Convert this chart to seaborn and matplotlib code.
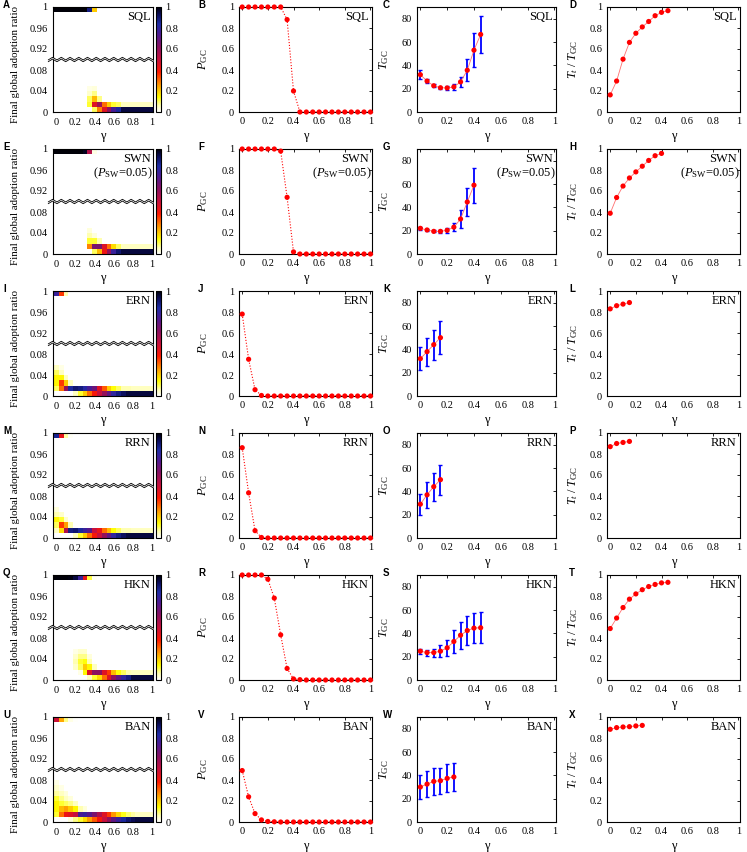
import numpy as np
import pandas as pd
import matplotlib
matplotlib.use("Agg")
import matplotlib.pyplot as plt
import seaborn as sns
from matplotlib.colors import LinearSegmentedColormap

# ---------------- data ----------------
GAMMA = [0.00, 0.05, 0.10, 0.15, 0.20, 0.25, 0.30, 0.35, 0.40, 0.45, 0.50,
         0.55, 0.60, 0.65, 0.70, 0.75, 0.80, 0.85, 0.90, 0.95, 1.00]
NETWORKS = ["SQL", "SWN", "ERN", "RRN", "HKN", "BAN"]
X_TICKS = [0, 0.2, 0.4, 0.6, 0.8, 1.0]
X_TICKLABELS = ["0", "0.2", "0.4", "0.6", "0.8", "1"]
HEAT_YTICKLABELS = ["0", "0.04", "0.08", "0.92", "0.96", "1"]
CBAR_TICKS = [0, 0.2, 0.4, 0.6, 0.8, 1.0]
CBAR_TICKLABELS = ["0", "0.2", "0.4", "0.6", "0.8", "1"]

# heat maps: final adoption ratio bins (top row = 0.99-1, low rows = 0-0.01, 0.01-0.02, ...)
SQL_TOP = [1, 1, 1, 1, 1, 1, 1, 0.88, 0.20, 0, 0, 0, 0, 0, 0, 0, 0, 0, 0, 0, 0]
SQL_LOW = [
    [0, 0, 0, 0, 0, 0, 0, 0, 0.10, 0.28, 0.45, 0.60, 0.75, 0.85, 0.95, 0.95, 0.95, 0.95, 0.95, 0.95, 0.95],
    [0, 0, 0, 0, 0, 0, 0, 0.12, 0.45, 0.58, 0.30, 0.20, 0.12, 0.10, 0.05, 0.05, 0.05, 0.05, 0.05, 0.05, 0.05],
    [0, 0, 0, 0, 0, 0, 0, 0.10, 0.22, 0.08, 0, 0, 0, 0, 0, 0, 0, 0, 0, 0, 0],
    [0, 0, 0, 0, 0, 0, 0, 0.04, 0.08, 0, 0, 0, 0, 0, 0, 0, 0, 0, 0, 0, 0],
    [0, 0, 0, 0, 0, 0, 0, 0.02, 0.03, 0, 0, 0, 0, 0, 0, 0, 0, 0, 0, 0, 0],
]
SWN_TOP = [1, 1, 1, 1, 1, 1, 0.98, 0.54, 0.02, 0, 0, 0, 0, 0, 0, 0, 0, 0, 0, 0, 0]
SWN_LOW = [
    [0, 0, 0, 0, 0, 0, 0, 0, 0.10, 0.22, 0.42, 0.60, 0.78, 0.90, 0.95, 0.95, 0.95, 0.95, 0.95, 0.95, 0.95],
    [0, 0, 0, 0, 0, 0, 0, 0.28, 0.65, 0.65, 0.45, 0.30, 0.18, 0.10, 0.05, 0.05, 0.05, 0.05, 0.05, 0.05, 0.05],
    [0, 0, 0, 0, 0, 0, 0, 0.12, 0.12, 0.06, 0, 0, 0, 0, 0, 0, 0, 0, 0, 0, 0],
    [0, 0, 0, 0, 0, 0, 0, 0.06, 0.03, 0, 0, 0, 0, 0, 0, 0, 0, 0, 0, 0, 0],
    [0, 0, 0, 0, 0, 0, 0, 0.03, 0, 0, 0, 0, 0, 0, 0, 0, 0, 0, 0, 0, 0],
]
ERN_TOP = [0.78, 0.35, 0.06, 0, 0, 0, 0, 0, 0, 0, 0, 0, 0, 0, 0, 0, 0, 0, 0, 0, 0]
ERN_LOW = [
    [0, 0, 0, 0, 0.05, 0.12, 0.20, 0.30, 0.40, 0.50, 0.60, 0.70, 0.80, 0.88, 0.92, 0.95, 0.95, 0.95, 0.95, 0.95, 0.95],
    [0.10, 0.30, 0.60, 0.85, 0.90, 0.88, 0.82, 0.75, 0.68, 0.45, 0.32, 0.20, 0.14, 0.10, 0.06, 0.06, 0.05, 0.05, 0.05, 0.05, 0.05],
    [0.15, 0.35, 0.20, 0.05, 0, 0, 0, 0, 0, 0, 0, 0, 0, 0, 0, 0, 0, 0, 0, 0, 0],
    [0.15, 0.15, 0.05, 0, 0, 0, 0, 0, 0, 0, 0, 0, 0, 0, 0, 0, 0, 0, 0, 0, 0],
    [0.10, 0.05, 0, 0, 0, 0, 0, 0, 0, 0, 0, 0, 0, 0, 0, 0, 0, 0, 0, 0, 0],
    [0.05, 0.02, 0, 0, 0, 0, 0, 0, 0, 0, 0, 0, 0, 0, 0, 0, 0, 0, 0, 0, 0],
]
RRN_TOP = [0.86, 0.43, 0.07, 0.01, 0, 0, 0, 0, 0, 0, 0, 0, 0, 0, 0, 0, 0, 0, 0, 0, 0]
RRN_LOW = [
    [0, 0, 0, 0, 0.05, 0.12, 0.20, 0.30, 0.40, 0.50, 0.60, 0.70, 0.80, 0.88, 0.92, 0.95, 0.95, 0.95, 0.95, 0.95, 0.95],
    [0.05, 0.18, 0.55, 0.88, 0.90, 0.85, 0.78, 0.72, 0.50, 0.42, 0.30, 0.22, 0.14, 0.10, 0.06, 0.06, 0.05, 0.05, 0.05, 0.05, 0.05],
    [0.10, 0.35, 0.25, 0.06, 0, 0, 0, 0, 0, 0, 0, 0, 0, 0, 0, 0, 0, 0, 0, 0, 0],
    [0.15, 0.12, 0.04, 0, 0, 0, 0, 0, 0, 0, 0, 0, 0, 0, 0, 0, 0, 0, 0, 0, 0],
    [0.06, 0.04, 0, 0, 0, 0, 0, 0, 0, 0, 0, 0, 0, 0, 0, 0, 0, 0, 0, 0, 0],
    [0.03, 0, 0, 0, 0, 0, 0, 0, 0, 0, 0, 0, 0, 0, 0, 0, 0, 0, 0, 0, 0],
]
HKN_TOP = [1, 1, 1, 0.99, 0.95, 0.78, 0.43, 0.11, 0.01, 0, 0, 0, 0, 0, 0, 0, 0, 0, 0, 0, 0]
HKN_LOW = [
    [0, 0, 0, 0, 0, 0, 0, 0.05, 0.12, 0.18, 0.30, 0.45, 0.60, 0.70, 0.80, 0.88, 0.95, 0.95, 0.95, 0.95, 0.95],
    [0, 0, 0, 0, 0, 0.02, 0.15, 0.45, 0.62, 0.62, 0.45, 0.35, 0.22, 0.14, 0.10, 0.06, 0.05, 0.05, 0.05, 0.05, 0.05],
    [0, 0, 0, 0, 0.04, 0.10, 0.20, 0.15, 0.05, 0, 0, 0, 0, 0, 0, 0, 0, 0, 0, 0, 0],
    [0, 0, 0, 0, 0.06, 0.12, 0.14, 0.06, 0, 0, 0, 0, 0, 0, 0, 0, 0, 0, 0, 0, 0],
    [0, 0, 0, 0, 0.04, 0.08, 0.08, 0.03, 0, 0, 0, 0, 0, 0, 0, 0, 0, 0, 0, 0, 0],
    [0, 0, 0, 0, 0.02, 0.04, 0.04, 0, 0, 0, 0, 0, 0, 0, 0, 0, 0, 0, 0, 0, 0],
]
BAN_TOP = [0.49, 0.24, 0.08, 0.02, 0.005, 0, 0, 0, 0, 0, 0, 0, 0, 0, 0, 0, 0, 0, 0, 0, 0]
BAN_LOW = [
    [0, 0, 0, 0.03, 0.08, 0.12, 0.18, 0.25, 0.32, 0.40, 0.50, 0.60, 0.70, 0.78, 0.85, 0.90, 0.93, 0.95, 0.95, 0.95, 0.95],
    [0.12, 0.30, 0.42, 0.45, 0.50, 0.75, 0.78, 0.72, 0.65, 0.55, 0.45, 0.35, 0.26, 0.19, 0.13, 0.09, 0.07, 0.05, 0.05, 0.05, 0.05],
    [0.15, 0.22, 0.25, 0.20, 0.15, 0.06, 0.03, 0, 0, 0, 0, 0, 0, 0, 0, 0, 0, 0, 0, 0, 0],
    [0.15, 0.12, 0.10, 0.08, 0.05, 0, 0, 0, 0, 0, 0, 0, 0, 0, 0, 0, 0, 0, 0, 0, 0],
    [0.12, 0.08, 0.05, 0.03, 0, 0, 0, 0, 0, 0, 0, 0, 0, 0, 0, 0, 0, 0, 0, 0, 0],
    [0.07, 0.05, 0.03, 0, 0, 0, 0, 0, 0, 0, 0, 0, 0, 0, 0, 0, 0, 0, 0, 0, 0],
    [0.04, 0.02, 0, 0, 0, 0, 0, 0, 0, 0, 0, 0, 0, 0, 0, 0, 0, 0, 0, 0, 0],
    [0.02, 0, 0, 0, 0, 0, 0, 0, 0, 0, 0, 0, 0, 0, 0, 0, 0, 0, 0, 0, 0],
]

# P_GC vs gamma (21 points each)
SQL_PGC = [1, 1, 1, 1, 1, 1, 1, 0.88, 0.20, 0, 0, 0, 0, 0, 0, 0, 0, 0, 0, 0, 0]
SWN_PGC = [1, 1, 1, 1, 1, 1, 0.98, 0.54, 0.02, 0, 0, 0, 0, 0, 0, 0, 0, 0, 0, 0, 0]
ERN_PGC = [0.78, 0.35, 0.06, 0.005, 0, 0, 0, 0, 0, 0, 0, 0, 0, 0, 0, 0, 0, 0, 0, 0, 0]
RRN_PGC = [0.86, 0.43, 0.07, 0.005, 0, 0, 0, 0, 0, 0, 0, 0, 0, 0, 0, 0, 0, 0, 0, 0, 0]
HKN_PGC = [1, 1, 1, 1, 0.96, 0.78, 0.43, 0.11, 0.01, 0.003, 0, 0, 0, 0, 0, 0, 0, 0, 0, 0, 0]
BAN_PGC = [0.49, 0.24, 0.08, 0.02, 0.005, 0.002, 0, 0, 0, 0, 0, 0, 0, 0, 0, 0, 0, 0, 0, 0, 0]

# T_GC (mean and error) vs gamma (first n points)
SQL_TGC = [32, 26.5, 22.5, 20.8, 20.6, 21.5, 25.8, 35.8, 53, 66.5]
SQL_TGC_ERR = [4, 2, 1.2, 1, 1.5, 2.5, 4, 9.6, 14.8, 16]
SWN_TGC = [22, 20.6, 19.4, 19.4, 20.3, 23, 30, 44.6, 59]
SWN_TGC_ERR = [1, 1, 0.8, 1, 2, 3.5, 7.5, 12, 15]
ERN_TGC = [32, 38, 44, 50]
ERN_TGC_ERR = [10, 12, 13, 14]
RRN_TGC = [29, 37, 44, 50]
RRN_TGC_ERR = [9, 11, 12, 13]
HKN_TGC = [24.7, 23.5, 23.5, 24.7, 27.6, 33, 38.4, 42.4, 44.5, 44.8]
HKN_TGC_ERR = [2, 2.5, 3.5, 5, 7, 10, 11.5, 12.5, 12.8, 13.5]
BAN_TGC = [30, 32.5, 34.8, 35.4, 37.4, 38.6]
BAN_TGC_ERR = [10.3, 11, 11.5, 11, 12, 12]

# T_t / T_GC vs gamma
SQL_RATIO = [0.163, 0.295, 0.503, 0.663, 0.75, 0.81, 0.862, 0.917, 0.949, 0.965]
SWN_RATIO = [0.388, 0.538, 0.647, 0.724, 0.782, 0.836, 0.891, 0.936, 0.958]
ERN_RATIO = [0.83, 0.86, 0.875, 0.89]
RRN_RATIO = [0.87, 0.90, 0.91, 0.92]
HKN_RATIO = [0.49, 0.59, 0.69, 0.77, 0.82, 0.86, 0.89, 0.91, 0.925, 0.93]
BAN_RATIO = [0.883, 0.899, 0.905, 0.908, 0.915, 0.92]

HEAT_TOP = [SQL_TOP, SWN_TOP, ERN_TOP, RRN_TOP, HKN_TOP, BAN_TOP]
HEAT_LOW = [SQL_LOW, SWN_LOW, ERN_LOW, RRN_LOW, HKN_LOW, BAN_LOW]
PGC = [SQL_PGC, SWN_PGC, ERN_PGC, RRN_PGC, HKN_PGC, BAN_PGC]
TGC = [SQL_TGC, SWN_TGC, ERN_TGC, RRN_TGC, HKN_TGC, BAN_TGC]
TGC_ERR = [SQL_TGC_ERR, SWN_TGC_ERR, ERN_TGC_ERR, RRN_TGC_ERR, HKN_TGC_ERR, BAN_TGC_ERR]
RATIO = [SQL_RATIO, SWN_RATIO, ERN_RATIO, RRN_RATIO, HKN_RATIO, BAN_RATIO]
LETTERS = ["ABCD", "EFGH", "IJKL", "MNOP", "QRST", "UVWX"]

# ---------------- style ----------------
sns.set_style("white")
plt.rcParams["font.family"] = ["Liberation Serif", "DejaVu Serif"]
plt.rcParams["mathtext.fontset"] = "custom"
plt.rcParams["mathtext.rm"] = "Liberation Serif"
plt.rcParams["mathtext.it"] = "Liberation Serif:italic"
for k in ["axes.edgecolor", "text.color", "xtick.color", "ytick.color", "axes.labelcolor"]:
    plt.rcParams[k] = "black"
plt.rcParams["axes.linewidth"] = 0.8

CMAP = LinearSegmentedColormap.from_list("adopt", [
    (0.00, "#ffffff"), (0.06, "#ffffb0"), (0.14, "#ffff00"), (0.25, "#ffa000"),
    (0.38, "#ff1800"), (0.50, "#c8103c"), (0.62, "#8a1060"), (0.74, "#4c1a92"),
    (0.84, "#1e2ca6"), (0.93, "#0a0c58"), (1.00, "#000008")])

W, H = 747, 852
fig = plt.figure(figsize=(W / 100, H / 100), dpi=100)


def box(l, t, r, b):
    return [l / W, 1 - b / H, (r - l) / W, (b - t) / H]


ROW_TOPS = [7, 149, 291, 433, 575, 717]
PH = 105
COLS = [(53, 153), (239, 372), (417, 556), (607, 740)]
LETTER_X = [3, 198, 383, 569]
TICK_FS = 7.5
LAB_FS = 9
TAG_FS = 9


def style_axis(ax):
    for s in ax.spines.values():
        s.set_visible(True)
        s.set_linewidth(0.8)
        s.set_color("black")
    ax.tick_params(direction="in", length=2.5, width=0.6, top=True, right=True,
                   labelsize=TICK_FS, pad=3.5)


def tag(ax, name):
    if name == "SWN":
        ax.text(0.975, 0.965, "SWN", transform=ax.transAxes, ha="right", va="top", fontsize=TAG_FS)
        ax.text(0.995, 0.77, r"($P_{\rm SW}$=0.05)", transform=ax.transAxes, ha="right",
                va="center", fontsize=TAG_FS, clip_on=False)
    else:
        ax.text(0.975, 0.965, name, transform=ax.transAxes, ha="right", va="top", fontsize=TAG_FS)


def xsetup(ax):
    ax.set_xlim(-0.025, 1.012)
    ax.set_xticks(X_TICKS)
    ax.set_xticklabels(X_TICKLABELS)
    ax.set_xlabel("γ", fontsize=LAB_FS)
    ax.xaxis.set_label_coords(0.5, -0.17)


for r, name in enumerate(NETWORKS):
    top = ROW_TOPS[r]
    bot = top + PH
    # ---------- heat map ----------
    ax = fig.add_axes(box(COLS[0][0], top, COLS[0][1], bot))
    cax = fig.add_axes(box(156, top, 161, bot))
    M = np.zeros((20, 21))
    for i, row in enumerate(HEAT_LOW[r]):
        M[i] = row
    M[19] = HEAT_TOP[r]
    df = pd.DataFrame(M)
    sns.heatmap(df, ax=ax, cmap=CMAP, vmin=0, vmax=1, cbar=True, cbar_ax=cax,
                mask=(M <= 0), xticklabels=False, yticklabels=False)
    ax.set_facecolor("white")
    ax.set_ylim(0, 20)
    ax.set_xlim(-0.2, 20.7)
    style_axis(ax)
    ax.tick_params(length=0)
    ax.set_xticks([0.5, 4.5, 8.5, 12.5, 16.5, 20.5])
    ax.set_xticklabels(X_TICKLABELS)
    ax.set_yticks([0, 4, 8, 12, 16, 20])
    ax.set_yticklabels(HEAT_YTICKLABELS)
    ax.tick_params(axis="both", labelsize=TICK_FS, pad=4)
    ax.set_xlabel("γ", fontsize=LAB_FS)
    ax.xaxis.set_label_coords(0.5, -0.17)
    ax.set_ylabel("Final global adoption ratio", fontsize=7.8)
    ax.yaxis.set_label_coords(-0.33, 0.45)
    for lab in ax.get_yticklabels():
        lab.set_rotation(0)
    # break mark
    xs = np.linspace(-1.2, 20.7, 25)
    zz = np.array([10 + (0.25 if k % 2 else -0.25) for k in range(len(xs))])
    ax.fill_between(xs, zz - 0.17, zz + 0.17, color="white", zorder=10, clip_on=False, lw=0)
    ax.plot(xs, zz - 0.17, color="black", lw=0.6, zorder=11, clip_on=False)
    ax.plot(xs, zz + 0.17, color="black", lw=0.6, zorder=11, clip_on=False)
    tag(ax, name)
    cb = ax.collections[0].colorbar
    cb.set_ticks(CBAR_TICKS)
    cb.set_ticklabels(CBAR_TICKLABELS)
    cb.ax.tick_params(labelsize=TICK_FS, direction="in", length=2, width=0.5, pad=3)
    cb.outline.set_visible(True)
    cb.outline.set_linewidth(0.8)
    cb.outline.set_edgecolor("black")

    # ---------- P_GC ----------
    ax = fig.add_axes(box(COLS[1][0], top, COLS[1][1], bot))
    dfp = pd.DataFrame({"g": GAMMA, "p": PGC[r]})
    sns.lineplot(data=dfp, x="g", y="p", ax=ax, color="red", lw=0.8,
                 linestyle=(0, (1, 1.6)), estimator=None)
    sns.scatterplot(data=dfp, x="g", y="p", ax=ax, color="red", s=14, edgecolor="none",
                    zorder=5, clip_on=False)
    style_axis(ax)
    xsetup(ax)
    ax.set_ylim(0, 1)
    ax.set_yticks(X_TICKS)
    ax.set_yticklabels(X_TICKLABELS)
    ax.set_ylabel(r"$P_{\rm GC}$", fontsize=LAB_FS)
    ax.yaxis.set_label_coords(-0.215, 0.5)
    tag(ax, name)

    # ---------- T_GC ----------
    ax = fig.add_axes(box(COLS[2][0], top, COLS[2][1], bot))
    n = len(TGC[r])
    dft = pd.DataFrame({"g": GAMMA[:n], "t": TGC[r], "e": TGC_ERR[r]})
    ax.errorbar(dft["g"], dft["t"], yerr=dft["e"], fmt="none", ecolor="#0000ff",
                elinewidth=1.3, capsize=1.5, capthick=1.0, zorder=3)
    sns.lineplot(data=dft, x="g", y="t", ax=ax, color="#ff7070", lw=0.6, estimator=None, zorder=4)
    sns.scatterplot(data=dft, x="g", y="t", ax=ax, color="red", s=14, edgecolor="none",
                    zorder=5, clip_on=False)
    style_axis(ax)
    xsetup(ax)
    ax.set_ylim(0, 90)
    ax.set_yticks([0, 20, 40, 60, 80])
    ax.set_yticklabels(["0", "20", "40", "60", "80"])
    ax.set_ylabel(r"$T_{\rm GC}$", fontsize=LAB_FS)
    ax.yaxis.set_label_coords(-0.185, 0.5)
    tag(ax, name)

    # ---------- T_t / T_GC ----------
    ax = fig.add_axes(box(COLS[3][0], top, COLS[3][1], bot))
    n = len(RATIO[r])
    dfr = pd.DataFrame({"g": GAMMA[:n], "q": RATIO[r]})
    sns.lineplot(data=dfr, x="g", y="q", ax=ax, color="#ff7070", lw=0.6, estimator=None, zorder=4)
    sns.scatterplot(data=dfr, x="g", y="q", ax=ax, color="red", s=14, edgecolor="none",
                    zorder=5, clip_on=False)
    style_axis(ax)
    xsetup(ax)
    ax.set_ylim(0, 1)
    ax.set_yticks(X_TICKS)
    ax.set_yticklabels(X_TICKLABELS)
    ax.set_ylabel(r"$T_t\;/\;T_{\rm GC}$", fontsize=LAB_FS)
    ax.yaxis.set_label_coords(-0.2, 0.5)
    tag(ax, name)

    # panel letters
    for c in range(4):
        fig.text(LETTER_X[c] / W, 1 - (top - 2) / H, LETTERS[r][c], fontsize=7,
                 fontweight="bold", family="Liberation Sans", ha="left", va="center")

fig.savefig("out.png", dpi=100, facecolor="white")
